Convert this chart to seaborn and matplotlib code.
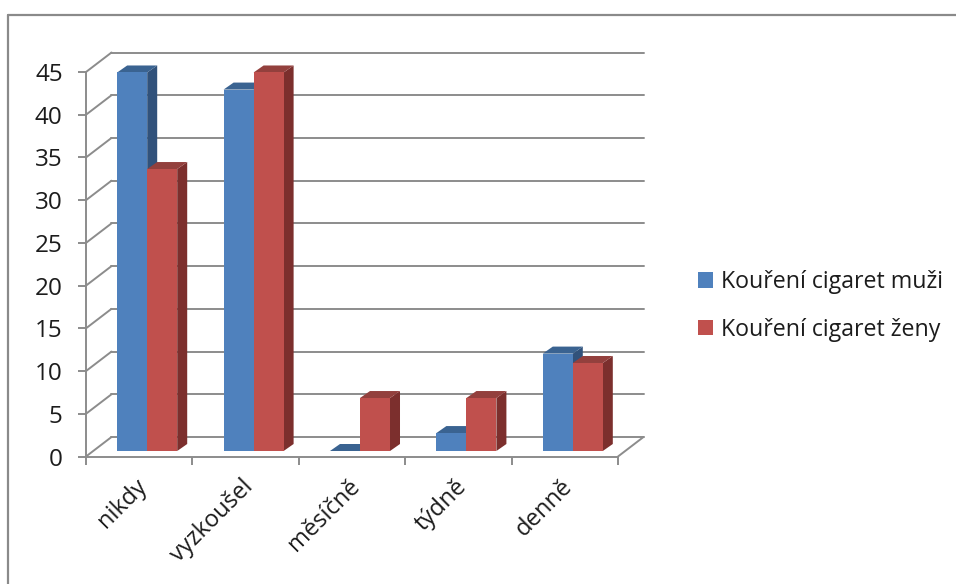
import matplotlib
matplotlib.use("Agg")
import matplotlib.pyplot as plt
from matplotlib.lines import Line2D
from matplotlib.patches import Polygon
from matplotlib.transforms import Affine2D
import numpy as np
import pandas as pd
import seaborn as sns

categories = ["nikdy", "vyzkoušel", "měsíčně", "týdně", "denně"]
men_label = "Kouření cigaret muži"
women_label = "Kouření cigaret ženy"
men = [44.3, 42.3, 0, 2.1, 11.4]
women = [33.0, 44.3, 6.2, 6.2, 10.3]
y_ticks = list(range(0, 50, 5))

W, H = 956, 584
GRID = "#8c8c8c"
TEXT = "#1c1c1c"
front_col = {men_label: "#4F81BD", women_label: "#C0504D"}
side_col = {men_label: "#31527B", women_label: "#7C2F2D"}
top_col = {men_label: "#3A6391", women_label: "#93403D"}

sns.set_theme(style="white")
plt.rcParams["font.family"] = ["Open Sans", "DejaVu Sans"]

df = pd.DataFrame({
    "kategorie": categories * 2,
    "hodnota": men + women,
    "serie": [men_label] * len(men) + [women_label] * len(women),
})

fig = plt.figure(figsize=(W / 100, H / 100), dpi=100)
ax = fig.add_axes([86 / W, 1 - 456.5 / H, 532 / W, 384.5 / H])
sns.barplot(data=df, x="kategorie", y="hodnota", hue="serie", hue_order=[men_label, women_label],
            palette=front_col, width=0.564, gap=0, dodge=True, saturation=1, linewidth=0, ax=ax, zorder=3)
ax.set_xlim(-0.5, 4.5)
ax.set_ylim(0, 45)
ax.set_xlabel("")
ax.set_ylabel("")

# pseudo-3D offsets in pixels
back = ax.transData + Affine2D().translate(25.5, 19.5)
bar_shift = ax.transData + Affine2D().translate(8, 5.5)
DX, DY = 10, 7
lw = 1.4

for tick in y_ticks:
    ax.plot([-0.5, 4.5], [tick, tick], transform=back, color=GRID, lw=lw, clip_on=False, zorder=1)
    p0 = ax.transData.transform((-0.5, tick))
    ax.plot([p0[0], p0[0] + 25.5], [p0[1], p0[1] + 19.5], transform=None, color=GRID, lw=lw,
            clip_on=False, zorder=1)
pr = ax.transData.transform((4.5, 0))
ax.plot([pr[0], pr[0] + 25.5], [pr[1], pr[1] + 19.5], transform=None, color=GRID, lw=lw,
        clip_on=False, zorder=1)

# sides and tops of the bars, taken from the bars seaborn drew
series = [men_label, women_label]
for s_idx, container in enumerate(ax.containers):
    name = series[s_idx]
    base_z = 3 + s_idx * 2
    for bar in container:
        bar.set_transform(bar_shift)
        bar.set_clip_on(False)
        bar.set_zorder(base_z + 1)
        x0, x1 = bar.get_x(), bar.get_x() + bar.get_width()
        h = bar.get_height()
        (px0, py0), (px1, py1) = bar_shift.transform([(x0, 0), (x1, h)])
        if h > 0:
            ax.add_patch(Polygon([(px1, py0), (px1 + DX, py0 + DY), (px1 + DX, py1 + DY), (px1, py1)],
                                 closed=True, transform=None, fc=side_col[name], ec="none",
                                 clip_on=False, zorder=base_z))
        ax.add_patch(Polygon([(px0, py1), (px0 + DX, py1 + DY), (px1 + DX, py1 + DY), (px1, py1)],
                             closed=True, transform=None, fc=top_col[name], ec="none",
                             clip_on=False, zorder=base_z))

for sp in ["top", "right"]:
    ax.spines[sp].set_visible(False)
for sp in ["left", "bottom"]:
    ax.spines[sp].set_color(GRID)
    ax.spines[sp].set_linewidth(lw)
    ax.spines[sp].set_zorder(2)

ax.set_yticks(y_ticks)
ax.set_xticks(range(len(categories)))
ax.set_xticks(np.arange(len(categories) + 1) - 0.5, minor=True)
ax.set_xticklabels(categories, rotation=45, ha="right", rotation_mode="anchor",
                   fontsize=17, color=TEXT)
ax.tick_params(axis="y", left=True, length=5.8, width=lw, color=GRID, pad=11, labelsize=17.5, labelcolor=TEXT)
ax.tick_params(axis="x", which="major", bottom=False, length=0, pad=13)
ax.tick_params(axis="x", which="minor", bottom=True, length=5.8, width=lw, color=GRID)
for lab in ax.get_xticklabels():
    lab.set_transform(lab.get_transform() + Affine2D().translate(-4, 0))

sns.move_legend(ax, "center left", bbox_to_anchor=(698 / W, 1 - 306 / H), bbox_transform=fig.transFigure,
                title=None, frameon=False, fontsize=16.7, handlelength=0.65, handleheight=0.65,
                handletextpad=0.33, labelspacing=1.02, borderpad=0, borderaxespad=0)
for t in ax.get_legend().get_texts():
    t.set_color(TEXT)

# chart frame
frame = "#8a8a8a"
fig.add_artist(Line2D([8 / W, 8 / W], [0, 1 - 15 / H], color=frame, lw=1.6, transform=fig.transFigure))
fig.add_artist(Line2D([7.5 / W, 1], [1 - 15 / H, 1 - 15 / H], color=frame, lw=1.6, transform=fig.transFigure))

fig.savefig("out.png", dpi=100)
